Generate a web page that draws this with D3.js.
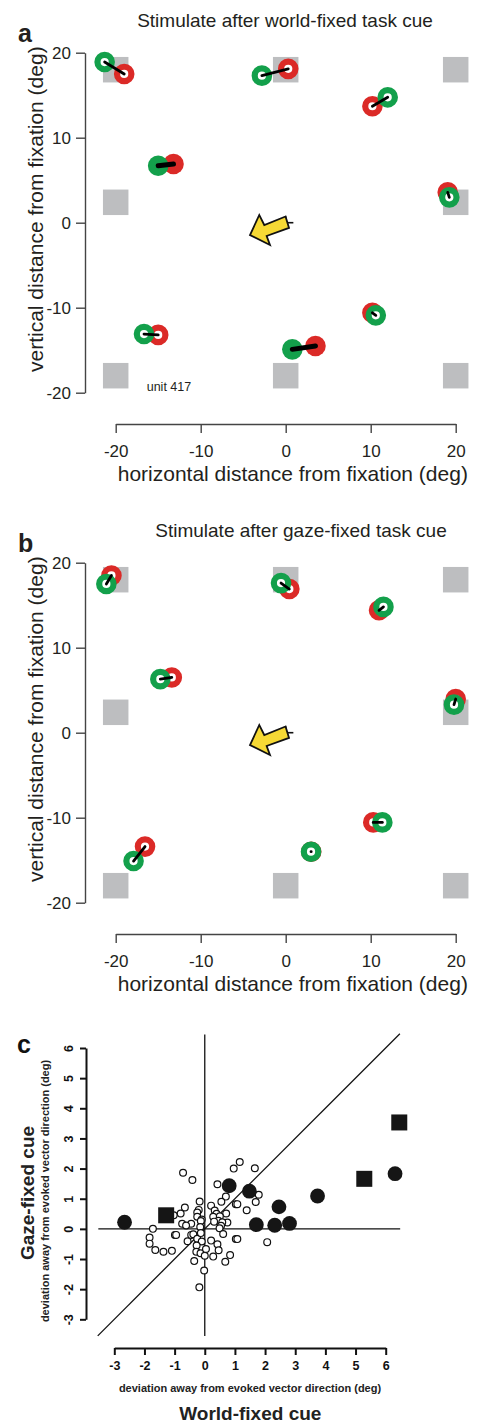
<!DOCTYPE html>
<html>
<head>
<meta charset="utf-8">
<title>saccade deviation figure</title>
<script src="https://cdn.jsdelivr.net/npm/d3@7"></script>
<style>
  body { margin: 0; background: #fff; }
  svg { display: block; font-family: "Liberation Sans", Arial, Helvetica, sans-serif; }
</style>
</head>
<body>
<svg id="chart" width="481" height="1423"></svg>
<script>
// --- panel a / b data (deg) ---
var mapTicks = [-20, -10, 0, 10, 20];
var squarePos = [[-20, 18], [0, 18], [20, 18], [-20, 2.4], [20, 2.4], [-20, -18], [0, -18], [20, -18]];

var worldGreen = [[-21.3, 18.9], [-2.8, 17.3], [12.0, 14.75], [-15.0, 6.7], [19.25, 2.98], [-16.67, -13.1], [0.78, -14.9], [10.6, -10.9]];
var worldRed = [[-19.0, 17.5], [0.3, 18.1], [10.2, 13.7], [-13.2, 6.9], [19.06, 3.57], [-15.0, -13.2], [3.5, -14.5], [10.2, -10.6]];
var worldFilled = [0, 0, 0, 1, 0, 0, 1, 0];

var gazeGreen = [[-21.1, 17.5], [-0.55, 17.6], [11.5, 14.8], [-14.75, 6.3], [19.8, 3.3], [-17.9, -15.1], [2.98, -14.0], [11.37, -10.55]];
var gazeRed = [[-20.5, 18.5], [0.43, 16.9], [10.98, 14.4], [-13.4, 6.5], [20.0, 3.96], [-16.55, -13.4], [3.0, -14.0], [10.3, -10.55]];
var gazeFilled = [0, 0, 0, 0, 0, 0, 0, 0];

// task cue arrow outline, relative to fixation
var arrowPts = [[-0.02, 0.73], [-2.52, -0.27], [-3.11, 0.91], [-4.2, -1.45], [-1.85, -2.62], [-2.24, -1.56], [0.39, -0.62]];

// --- panel c data (deg) ---
var devTicks = [-3, -2, -1, 0, 1, 2, 3, 4, 5, 6];
var openPts = [[-0.72, 1.86], [-0.41, 1.62], [1.16, 2.22], [0.96, 2.0], [1.66, 2.01], [0.42, 1.48], [1.79, 1.13], [1.69, 0.89],
  [0.70, 1.07], [0.55, 0.90], [-0.17, 0.91], [1.03, 0.82], [1.08, 0.82], [1.39, 0.62], [0.21, 0.77], [-0.66, 0.71],
  [-0.80, 0.51], [-1.03, 0.45], [-0.20, 0.63], [-0.25, 0.54], [-0.25, 0.40], [-0.10, 0.31], [0.71, 0.51], [0.33, 0.61],
  [0.39, 0.50], [0.28, 0.40], [0.50, 0.42], [0.45, 0.27], [0.75, 0.21], [0.58, 0.22], [0.31, 0.24], [-0.13, 0.26],
  [-0.45, 0.17], [-0.75, 0.17], [-0.62, 0.11], [0.54, 0.10], [-0.15, 0.06], [0.49, 0.02], [-1.72, 0.0],
  [-1.83, -0.29], [-1.83, -0.49], [-1.64, -0.70], [-1.37, -0.76], [-1.09, -0.73], [-0.99, -0.2], [-0.95, -0.2],
  [-0.57, -0.41], [-0.45, -0.2], [-0.38, -0.18], [-0.25, -0.33], [-0.13, -0.14], [-0.10, -0.42], [-0.27, -0.55],
  [-0.28, -0.76], [-0.35, -1.07], [-0.14, -0.81], [0.0, -0.89], [0.04, -0.67], [-0.02, -1.38], [-0.18, -1.94],
  [0.21, -0.39], [0.42, -0.51], [0.46, -0.71], [0.28, -0.92], [0.61, -0.17], [0.68, -1.09], [0.84, -0.87],
  [1.03, -0.34], [1.08, -0.34], [2.07, -0.44]];
var filledPts = [[-2.66, 0.22], [0.81, 1.43], [1.48, 1.25], [2.46, 0.73], [1.71, 0.14], [2.32, 0.12], [2.81, 0.18], [3.74, 1.09], [6.31, 1.83]];
var squarePts = [[-1.28, 0.45], [5.29, 1.66], [6.45, 3.53]];

var GREEN = '#13a04b', RED = '#db2a27', GRAY = '#bdbec0', INK = '#231f20';
var plain = function (d) { return String(d); };   // hyphen minus, like the original
var svg = d3.select('#chart');

drawMap(52.7, 'a', 'Stimulate after world-fixed task cue', 285, worldGreen, worldRed, worldFilled, true);
drawMap(562.7, 'b', 'Stimulate after gaze-fixed task cue', 301, gazeGreen, gazeRed, gazeFilled, false);
drawScatter();

function drawMap(top, letter, title, titleX, green, red, filled, showUnit) {
  var x = d3.scaleLinear().domain([-20, 20]).range([115.7, 455.7]);
  var y = d3.scaleLinear().domain([-20, 20]).range([top + 340, top]);
  var g = svg.append('g');

  g.append('text').attr('x', 18).attr('y', top - 11).attr('font-size', 25).attr('font-weight', 'bold')
    .attr('fill', INK).text(letter);
  g.append('text').attr('x', titleX).attr('y', top - 26).attr('text-anchor', 'middle')
    .attr('font-size', 19).attr('fill', INK).text(title);

  // axes
  var ya = g.append('g').attr('transform', 'translate(85,0)')
    .call(d3.axisLeft(y).tickValues(mapTicks).tickFormat(plain).tickSize(9).tickPadding(5).tickSizeOuter(0));
  var xa = g.append('g').attr('transform', 'translate(0,' + (top + 371.3) + ')')
    .call(d3.axisBottom(x).tickValues(mapTicks).tickFormat(plain).tickSize(9).tickPadding(12).tickSizeOuter(0));
  [ya, xa].forEach(function (a) {
    a.selectAll('path, line').attr('stroke', '#444').attr('stroke-width', 1.4);
    a.selectAll('text').attr('font-size', 17).attr('fill', INK).attr('font-family', null);
  });
  xa.selectAll('text').attr('dy', '0.71em');

  g.append('text').attr('x', 292.8).attr('y', top + 428).attr('text-anchor', 'middle')
    .attr('font-size', 21).attr('fill', INK).text('horizontal distance from fixation (deg)');
  g.append('text').attr('transform', 'translate(43,' + (top + 156.5) + ') rotate(-90)')
    .attr('text-anchor', 'middle').attr('font-size', 21).attr('fill', INK)
    .text('vertical distance from fixation (deg)');

  // stimulation squares
  var half = 1.5;
  g.selectAll('rect.sq').data(squarePos).enter().append('rect')
    .attr('x', function (d) { return x(d[0] - half); })
    .attr('y', function (d) { return y(d[1] + half); })
    .attr('width', function (d) { return x(d[0] + half) - x(d[0] - half); })
    .attr('height', function (d) { return y(d[1] - half) - y(d[1] + half); })
    .attr('fill', GRAY);

  // fixation cross + task cue arrow
  g.append('line').attr('x1', x(-0.7)).attr('x2', x(0.9)).attr('y1', y(0)).attr('y2', y(0))
    .attr('stroke', '#111').attr('stroke-width', 1.6);
  g.append('line').attr('x1', x(0)).attr('x2', x(0)).attr('y1', y(0.75)).attr('y2', y(-0.75))
    .attr('stroke', '#111').attr('stroke-width', 1.6);
  g.append('polygon')
    .attr('points', arrowPts.map(function (p) { return x(p[0]) + ',' + y(p[1]); }).join(' '))
    .attr('fill', '#f6d935').attr('stroke', '#111').attr('stroke-width', 1.8).attr('stroke-linejoin', 'miter');

  if (showUnit) {
    g.append('text').attr('x', x(-16.35)).attr('y', y(-19.75)).attr('font-size', 12.5)
      .attr('fill', INK).text('unit 417');
  }

  // evoked endpoints: red, green on top, then the connecting segment
  var idx = d3.range(green.length);
  function addDots(pts, col) {
    g.selectAll(null).data(idx).enter().append('circle')
      .attr('cx', function (i) { return x(pts[i][0]); })
      .attr('cy', function (i) { return y(pts[i][1]); })
      .attr('r', function (i) { return filled[i] ? 10.3 : 7.2; })
      .attr('fill', function (i) { return filled[i] ? col : '#fff'; })
      .attr('stroke', function (i) { return filled[i] ? 'none' : col; })
      .attr('stroke-width', 6.2);
  }
  addDots(red, RED);
  addDots(green, GREEN);
  g.selectAll(null).data(idx).enter().append('line')
    .attr('x1', function (i) { return x(green[i][0]); })
    .attr('y1', function (i) { return y(green[i][1]); })
    .attr('x2', function (i) { return x(red[i][0]); })
    .attr('y2', function (i) { return y(red[i][1]); })
    .attr('stroke', '#000').attr('stroke-linecap', 'round')
    .attr('stroke-width', function (i) { return filled[i] ? 5 : 2.8; });
}

function drawScatter() {
  var x = d3.scaleLinear().domain([-3, 6]).range([114.3, 385.7]);
  var y = d3.scaleLinear().domain([-3, 6]).range([1319.3, 1048]);
  var g = svg.append('g').attr('font-weight', 'bold');

  g.append('text').attr('x', 17).attr('y', 1053).attr('font-size', 25).attr('fill', '#111').text('c');

  var ya = g.append('g').attr('transform', 'translate(86,0)')
    .call(d3.axisLeft(y).tickValues(devTicks).tickFormat(plain).tickSize(6).tickSizeOuter(0));
  ya.selectAll('text').attr('x', 0).attr('dy', 0).attr('text-anchor', 'middle')
    .attr('transform', 'translate(-13,0) rotate(-90)');
  var xa = g.append('g').attr('transform', 'translate(0,1348)')
    .call(d3.axisBottom(x).tickValues(devTicks).tickFormat(plain).tickSize(7).tickPadding(6).tickSizeOuter(0));
  [ya, xa].forEach(function (a) {
    a.selectAll('path, line').attr('stroke', '#111').attr('stroke-width', 2);
    a.selectAll('text').attr('font-size', 12.5).attr('fill', '#111').attr('font-family', null);
  });

  // reference lines
  var ref = g.append('g').attr('stroke', '#111').attr('stroke-width', 1.3);
  ref.append('line').attr('x1', x(-3.53)).attr('x2', x(6.48)).attr('y1', y(0)).attr('y2', y(0));
  ref.append('line').attr('x1', x(0)).attr('x2', x(0)).attr('y1', y(-3.55)).attr('y2', y(6.45));
  ref.append('line').attr('x1', x(-3.55)).attr('x2', x(6.47)).attr('y1', y(-3.55)).attr('y2', y(6.47));

  g.selectAll('circle.open').data(openPts).enter().append('circle')
    .attr('cx', function (d) { return x(d[0]); }).attr('cy', function (d) { return y(d[1]); })
    .attr('r', 3.4).attr('fill', '#fff').attr('stroke', '#111').attr('stroke-width', 1.2);
  g.selectAll('circle.full').data(filledPts).enter().append('circle')
    .attr('cx', function (d) { return x(d[0]); }).attr('cy', function (d) { return y(d[1]); })
    .attr('r', 7.4).attr('fill', '#151515');
  g.selectAll('rect.full').data(squarePts).enter().append('rect')
    .attr('x', function (d) { return x(d[0]) - 8; }).attr('y', function (d) { return y(d[1]) - 8; })
    .attr('width', 16).attr('height', 16).attr('fill', '#151515');

  g.append('text').attr('x', 250).attr('y', 1391.5).attr('text-anchor', 'middle')
    .attr('font-size', 11).attr('fill', '#222').text('deviation away from evoked vector direction (deg)');
  g.append('text').attr('x', 250.3).attr('y', 1420).attr('text-anchor', 'middle')
    .attr('font-size', 19).attr('fill', '#222').text('World-fixed cue');
  g.append('text').attr('transform', 'translate(49,1191) rotate(-90)').attr('text-anchor', 'middle')
    .attr('font-size', 11).attr('fill', '#222').text('deviation away from evoked vector direction (deg)');
  g.append('text').attr('transform', 'translate(34,1193) rotate(-90)').attr('text-anchor', 'middle')
    .attr('font-size', 19).attr('fill', '#222').text('Gaze-fixed cue');
}
</script>
</body>
</html>
